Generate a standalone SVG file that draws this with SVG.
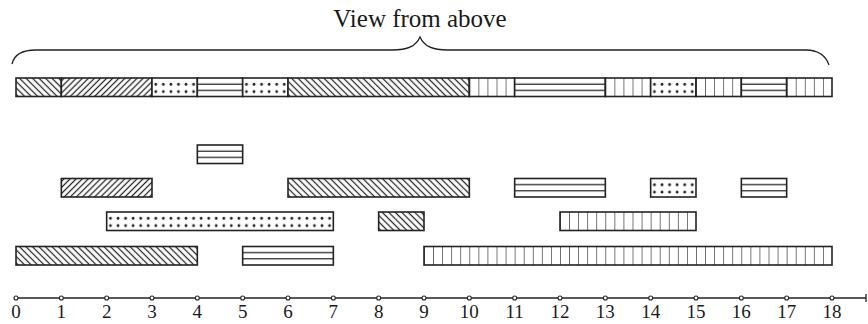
<svg xmlns="http://www.w3.org/2000/svg" width="868" height="324" viewBox="0 0 868 324">
<style>
  .box{stroke:#222;stroke-width:1.6}
  .bs{fill:url(#bs)}
  .fs{fill:url(#fs)}
  .dots{fill:url(#dots)}
  .hz{fill:url(#hz)}
  .vt{fill:url(#vt)}
  .hl{stroke:#222;stroke-width:1.25}
  .ax{stroke:#222;stroke-width:1.3;fill:none}
  .tick{fill:#fff;stroke:#222;stroke-width:1.1}
  .num{font-family:"Liberation Serif",serif;font-size:19px;fill:#1a1a1a;text-anchor:middle}
  .title{font-family:"Liberation Serif",serif;font-size:25px;fill:#1a1a1a;text-anchor:middle}
</style>
<defs>
  <pattern id="bs" patternUnits="userSpaceOnUse" width="4.6" height="10" patternTransform="rotate(-45)">
    <rect width="4.6" height="10" fill="#fff"/>
    <line x1="2.3" y1="0" x2="2.3" y2="10" class="hl"/>
  </pattern>
  <pattern id="fs" patternUnits="userSpaceOnUse" width="4.3" height="10" patternTransform="rotate(45)">
    <rect width="4.3" height="10" fill="#fff"/>
    <line x1="2.15" y1="0" x2="2.15" y2="10" class="hl"/>
  </pattern>
  <pattern id="dots" patternUnits="userSpaceOnUse" width="7.5556" height="18.5">
    <rect width="7.5556" height="18.5" fill="#fff"/>
    <circle cx="3.8" cy="6.3" r="1.4" fill="#1a1a1a"/>
    <circle cx="3.8" cy="13.6" r="1.4" fill="#1a1a1a"/>
  </pattern>
  <pattern id="hz" patternUnits="userSpaceOnUse" width="10" height="18.5">
    <rect width="10" height="18.5" fill="#fff"/>
    <line x1="0" y1="6.2" x2="10" y2="6.2" class="hl"/>
    <line x1="0" y1="12.3" x2="10" y2="12.3" class="hl"/>
  </pattern>
  <pattern id="vt" patternUnits="userSpaceOnUse" width="9.0667" height="18.5">
    <rect width="9.0667" height="18.5" fill="#fff"/>
    <line x1="0" y1="0" x2="0" y2="18.5" class="hl"/>
  </pattern>
</defs>
<rect width="868" height="324" fill="#fff"/>

<g id="title">
  <text class="title" x="420" y="27">View from above</text>
  <path class="ax" d="M12,64 C14,55 22,50 36,50 L392,50 C408,50 416,46 420,37 C424,46 432,50 448,50 L806,50 C818,50 826,56 829,65"/>
</g>

<g id="top-bar">
  <g id="t1" transform="translate(16,78)"><rect class="box bs" width="45.333" height="18.5"/></g>
  <g id="t2" transform="translate(61.333,78)"><rect class="box fs" width="90.667" height="18.5"/></g>
  <g id="t3" transform="translate(152,78)"><rect class="box dots" width="45.333" height="18.5"/></g>
  <g id="t4" transform="translate(197.333,78)"><rect class="box hz" width="45.333" height="18.5"/></g>
  <g id="t5" transform="translate(242.667,78)"><rect class="box dots" width="45.333" height="18.5"/></g>
  <g id="t6" transform="translate(288,78)"><rect class="box bs" width="181.333" height="18.5"/></g>
  <g id="t7" transform="translate(469.333,78)"><rect class="box vt" width="45.333" height="18.5"/></g>
  <g id="t8" transform="translate(514.667,78)"><rect class="box hz" width="90.667" height="18.5"/></g>
  <g id="t9" transform="translate(605.333,78)"><rect class="box vt" width="45.333" height="18.5"/></g>
  <g id="t10" transform="translate(650.667,78)"><rect class="box dots" width="45.333" height="18.5"/></g>
  <g id="t11" transform="translate(696,78)"><rect class="box vt" width="45.333" height="18.5"/></g>
  <g id="t12" transform="translate(741.333,78)"><rect class="box hz" width="45.333" height="18.5"/></g>
  <g id="t13" transform="translate(786.667,78)"><rect class="box vt" width="45.333" height="18.5"/></g>
</g>

<g id="a1" transform="translate(197.333,145)"><rect class="box hz" width="45.333" height="18.5"/></g>

<g id="b1" transform="translate(61.333,178.5)"><rect class="box fs" width="90.667" height="18.5"/></g>
<g id="b2" transform="translate(288,178.5)"><rect class="box bs" width="181.333" height="18.5"/></g>
<g id="b3" transform="translate(514.667,178.5)"><rect class="box hz" width="90.667" height="18.5"/></g>
<g id="b4" transform="translate(650.667,178.5)"><rect class="box dots" width="45.333" height="18.5"/></g>
<g id="b5" transform="translate(741.333,178.5)"><rect class="box hz" width="45.333" height="18.5"/></g>

<g id="c1" transform="translate(106.667,212)"><rect class="box dots" width="226.667" height="18.5"/></g>
<g id="c2" transform="translate(378.667,212)"><rect class="box bs" width="45.333" height="18.5"/></g>
<g id="c3" transform="translate(560,212)"><rect class="box vt" width="136" height="18.5"/></g>

<g id="d1" transform="translate(16,246.5)"><rect class="box bs" width="181.333" height="18.5"/></g>
<g id="d2" transform="translate(242.667,246.5)"><rect class="box hz" width="90.667" height="18.5"/></g>
<g id="d3" transform="translate(424,246.5)"><rect class="box vt" width="408" height="18.5"/></g>

<g id="axis">
  <line class="ax" x1="14" y1="298" x2="866" y2="298"/>
  <line class="ax" x1="866" y1="294" x2="866" y2="302"/>
  <g>
    <circle class="tick" cx="16" cy="298" r="2"/>
    <circle class="tick" cx="61.333" cy="298" r="2"/>
    <circle class="tick" cx="106.667" cy="298" r="2"/>
    <circle class="tick" cx="152" cy="298" r="2"/>
    <circle class="tick" cx="197.333" cy="298" r="2"/>
    <circle class="tick" cx="242.667" cy="298" r="2"/>
    <circle class="tick" cx="288" cy="298" r="2"/>
    <circle class="tick" cx="333.333" cy="298" r="2"/>
    <circle class="tick" cx="378.667" cy="298" r="2"/>
    <circle class="tick" cx="424" cy="298" r="2"/>
    <circle class="tick" cx="469.333" cy="298" r="2"/>
    <circle class="tick" cx="514.667" cy="298" r="2"/>
    <circle class="tick" cx="560" cy="298" r="2"/>
    <circle class="tick" cx="605.333" cy="298" r="2"/>
    <circle class="tick" cx="650.667" cy="298" r="2"/>
    <circle class="tick" cx="696" cy="298" r="2"/>
    <circle class="tick" cx="741.333" cy="298" r="2"/>
    <circle class="tick" cx="786.667" cy="298" r="2"/>
    <circle class="tick" cx="832" cy="298" r="2"/>
  </g>
  <g>
    <text class="num" x="16" y="318">0</text>
    <text class="num" x="61.333" y="318">1</text>
    <text class="num" x="106.667" y="318">2</text>
    <text class="num" x="152" y="318">3</text>
    <text class="num" x="197.333" y="318">4</text>
    <text class="num" x="242.667" y="318">5</text>
    <text class="num" x="288" y="318">6</text>
    <text class="num" x="333.333" y="318">7</text>
    <text class="num" x="378.667" y="318">8</text>
    <text class="num" x="424" y="318">9</text>
    <text class="num" x="469.333" y="318">10</text>
    <text class="num" x="514.667" y="318">11</text>
    <text class="num" x="560" y="318">12</text>
    <text class="num" x="605.333" y="318">13</text>
    <text class="num" x="650.667" y="318">14</text>
    <text class="num" x="696" y="318">15</text>
    <text class="num" x="741.333" y="318">16</text>
    <text class="num" x="786.667" y="318">17</text>
    <text class="num" x="832" y="318">18</text>
  </g>
</g>
</svg>
